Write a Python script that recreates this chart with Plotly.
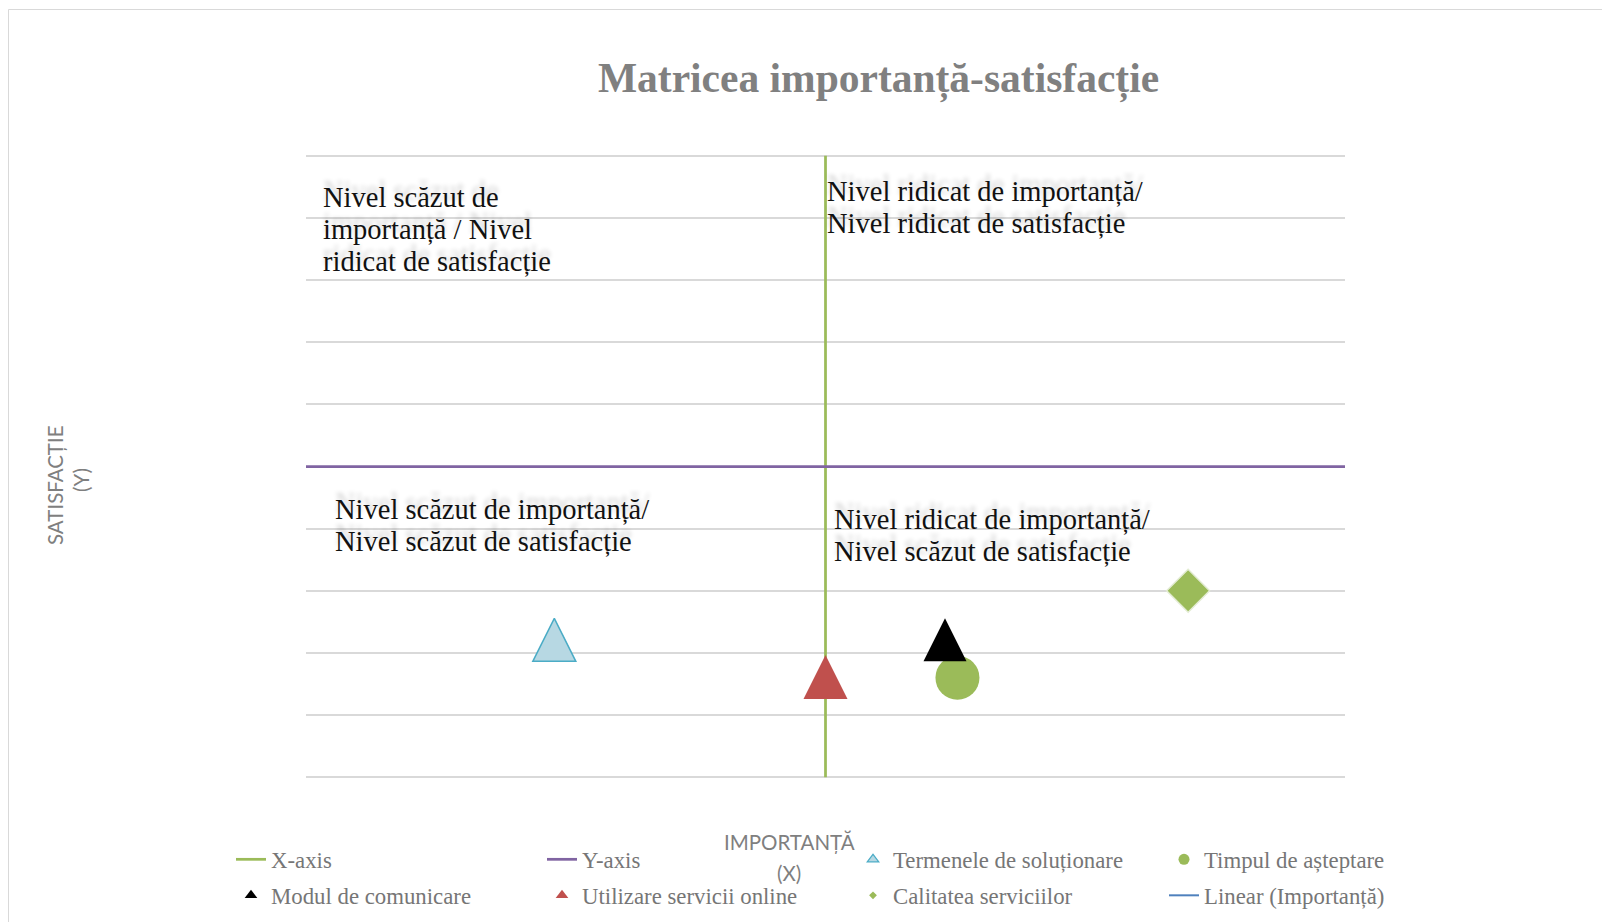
import plotly.graph_objects as go

# ---------------- data ----------------
series_names = ["Termenele de soluționare", "Timpul de așteptare", "Modul de comunicare",
                "Utilizare servicii online", "Calitatea serviciilor"]
importanta = [2.39, 6.27, 6.15, 5.0, 8.49]      # X (importanță)
satisfactie = [2.21, 1.60, 2.21, 1.61, 3.0]     # Y (satisfacție)

x_axis_x = [5, 5]          # vertical reference line ("X-axis")
x_axis_y = [0, 10]
y_axis_x = [0, 10]         # horizontal reference line ("Y-axis")
y_axis_y = [5, 5]

x_range = [0, 10]
y_range = [-0.03, 10.03]
y_step = 1

title_text = "Matricea importanță-satisfacție"
quadrant_texts = {
    "tl": ["Nivel scăzut de", "importanță / Nivel", "ridicat de satisfacție"],
    "tr": ["Nivel ridicat de importanță/", "Nivel ridicat de satisfacție"],
    "bl": ["Nivel scăzut de importanță/", "Nivel scăzut de satisfacție"],
    "br": ["Nivel ridicat de importanță/", "Nivel scăzut de satisfacție"],
}

# ---------------- layout geometry ----------------
OFF = 8                      # page body margin
FW, FH = 1602, 914
ML, MR, MT, MB = 298, 265, 146, 143
PW, PH = FW - ML - MR, FH - MT - MB


def px(xp):
    """page x pixel -> paper x"""
    return (xp - OFF - ML) / PW


def py(yp):
    """page y pixel -> paper y"""
    return (FH - MB - (yp - OFF)) / PH


SERIF = "Liberation Serif, Times New Roman, serif"
SANS_LIGHT = "Lato, Liberation Sans, sans-serif"

styles = {
    "Termenele de soluționare": dict(symbol="arrow-down", angle=180, size=43, standoff=21.5,
                                     color="#b7d8e3", line=dict(color="#4bacc6", width=1.5),
                                     leg=dict(symbol="triangle-up", size=10, color="#b7d8e3",
                                              line=dict(color="#4bacc6", width=1.2))),
    "Timpul de așteptare": dict(symbol="circle", size=44, color="#9bbb59",
                                line=dict(width=0),
                                leg=dict(symbol="circle", size=11, color="#9bbb59")),
    "Modul de comunicare": dict(symbol="arrow-down", angle=180, size=43, standoff=21.5,
                                color="#000000", line=dict(width=0),
                                leg=dict(symbol="triangle-up", size=11, color="#000000")),
    "Utilizare servicii online": dict(symbol="arrow-down", angle=180, size=44, standoff=22,
                                      color="#c0504d", line=dict(width=0),
                                      leg=dict(symbol="triangle-up", size=11, color="#c0504d")),
    "Calitatea serviciilor": dict(symbol="diamond", size=33, color="#9bbb59",
                                  line=dict(color="#e3ecd3", width=1.5),
                                  leg=dict(symbol="diamond", size=6, color="#9bbb59")),
}
legend_of = {
    "Termenele de soluționare": "legend",
    "Timpul de așteptare": "legend",
    "Modul de comunicare": "legend2",
    "Utilizare servicii online": "legend2",
    "Calitatea serviciilor": "legend2",
}

fig = go.Figure()

# reference lines
fig.add_trace(go.Scatter(x=x_axis_x, y=x_axis_y, mode="lines", name="X-axis",
                         line=dict(color="#9bbb59", width=2.75), legend="legend",
                         hoverinfo="skip"))
fig.add_trace(go.Scatter(x=y_axis_x, y=y_axis_y, mode="lines", name="Y-axis",
                         line=dict(color="#8064a2", width=2.75), legend="legend",
                         hoverinfo="skip"))

# data points (drawn); legend symbols through grouped legend entries
for name, xv, yv in zip(series_names, importanta, satisfactie):
    st = styles[name]
    mk = dict(symbol=st["symbol"], size=st["size"], color=st["color"], line=st["line"])
    if "angle" in st:
        mk["angle"] = st["angle"]
        mk["standoff"] = st["standoff"]
    fig.add_trace(go.Scatter(x=[xv], y=[yv], mode="markers", name=name, marker=mk,
                             legendgroup=name, showlegend=False, cliponaxis=False))
    fig.add_trace(go.Scatter(x=[None], y=[None], mode="markers", name=name,
                             marker=st["leg"], legendgroup=name, showlegend=True,
                             legend=legend_of[name]))

# trendline entry (legend only, no visible segment in the original)
fig.add_trace(go.Scatter(x=[None], y=[None], mode="lines", name="Linear (Importanță)",
                         line=dict(color="#4f81bd", width=2), legend="legend2"))

ann = []
shadow = "0px -7px 4px rgba(0,0,0,0.16)"
qpos = {
    "tl": (320.5, [197, 229, 261]),
    "tr": (825, [192, 223]),
    "bl": (333, [509, 541]),
    "br": (832, [519, 551]),
}
for key, lines in quadrant_texts.items():
    x0, ys = qpos[key]
    for txt, yy in zip(lines, ys):
        ann.append(dict(text=txt, xref="paper", yref="paper", x=px(x0), y=py(yy),
                        xanchor="left", yanchor="middle", showarrow=False,
                        font=dict(family=SERIF, size=28.5, color="#111111", shadow=shadow)))

axis_font = dict(family=SANS_LIGHT, size=20.5, color="#7f7f7f", weight=400)
ann.append(dict(text="IMPORTANȚĂ", xref="paper", yref="paper", x=px(789.5), y=py(842),
                xanchor="center", yanchor="middle", showarrow=False, font=axis_font))
ann.append(dict(text="(X)", xref="paper", yref="paper", x=px(788.6), y=py(873),
                xanchor="center", yanchor="middle", showarrow=False, font=axis_font))
ann.append(dict(text="SATISFACȚIE", xref="paper", yref="paper", x=px(55), y=py(485),
                xanchor="center", yanchor="middle", showarrow=False, textangle=-90,
                font=axis_font))
ann.append(dict(text="(Y)", xref="paper", yref="paper", x=px(81), y=py(480),
                xanchor="center", yanchor="middle", showarrow=False, textangle=-90,
                font=axis_font))

legend_common = dict(orientation="h", xref="paper", yref="paper",
                     xanchor="left", yanchor="middle", entrywidth=266,
                     entrywidthmode="pixels", bgcolor="rgba(0,0,0,0)",
                     traceorder="normal", itemsizing="trace",
                     font=dict(family=SERIF, size=22.8, color="#767676"))

fig.update_layout(
    width=FW, height=FH,
    margin=dict(l=ML, r=MR, t=MT, b=MB, pad=0, autoexpand=False),
    paper_bgcolor="white", plot_bgcolor="white",
    title=dict(text=title_text, x=(878.5 - OFF) / FW, xanchor="center", xref="container",
               y=1 - (77 - OFF) / FH, yanchor="middle", yref="container",
               font=dict(family=SERIF, size=41.5, color="#808080", weight="bold")),
    xaxis=dict(range=x_range, showgrid=False, zeroline=False, showline=False,
               showticklabels=False, ticks="", fixedrange=True),
    yaxis=dict(range=y_range, dtick=y_step, tick0=0, showgrid=True, gridcolor="#d9d9d9",
               gridwidth=1.5, zeroline=False, showline=False, showticklabels=False,
               ticks="", fixedrange=True),
    legend=dict(legend_common, x=px(231), y=py(859.5)),
    legend2=dict(legend_common, x=px(231), y=py(895.5)),
    annotations=ann,
    shapes=[dict(type="rect", xref="paper", yref="paper", x0=px(8.5), x1=px(1800),
                 y0=py(1100), y1=py(9.5), line=dict(color="#d9d9d9", width=1),
                 fillcolor="rgba(0,0,0,0)", layer="below")],
    showlegend=True,
)

fig.write_html("out.html")
